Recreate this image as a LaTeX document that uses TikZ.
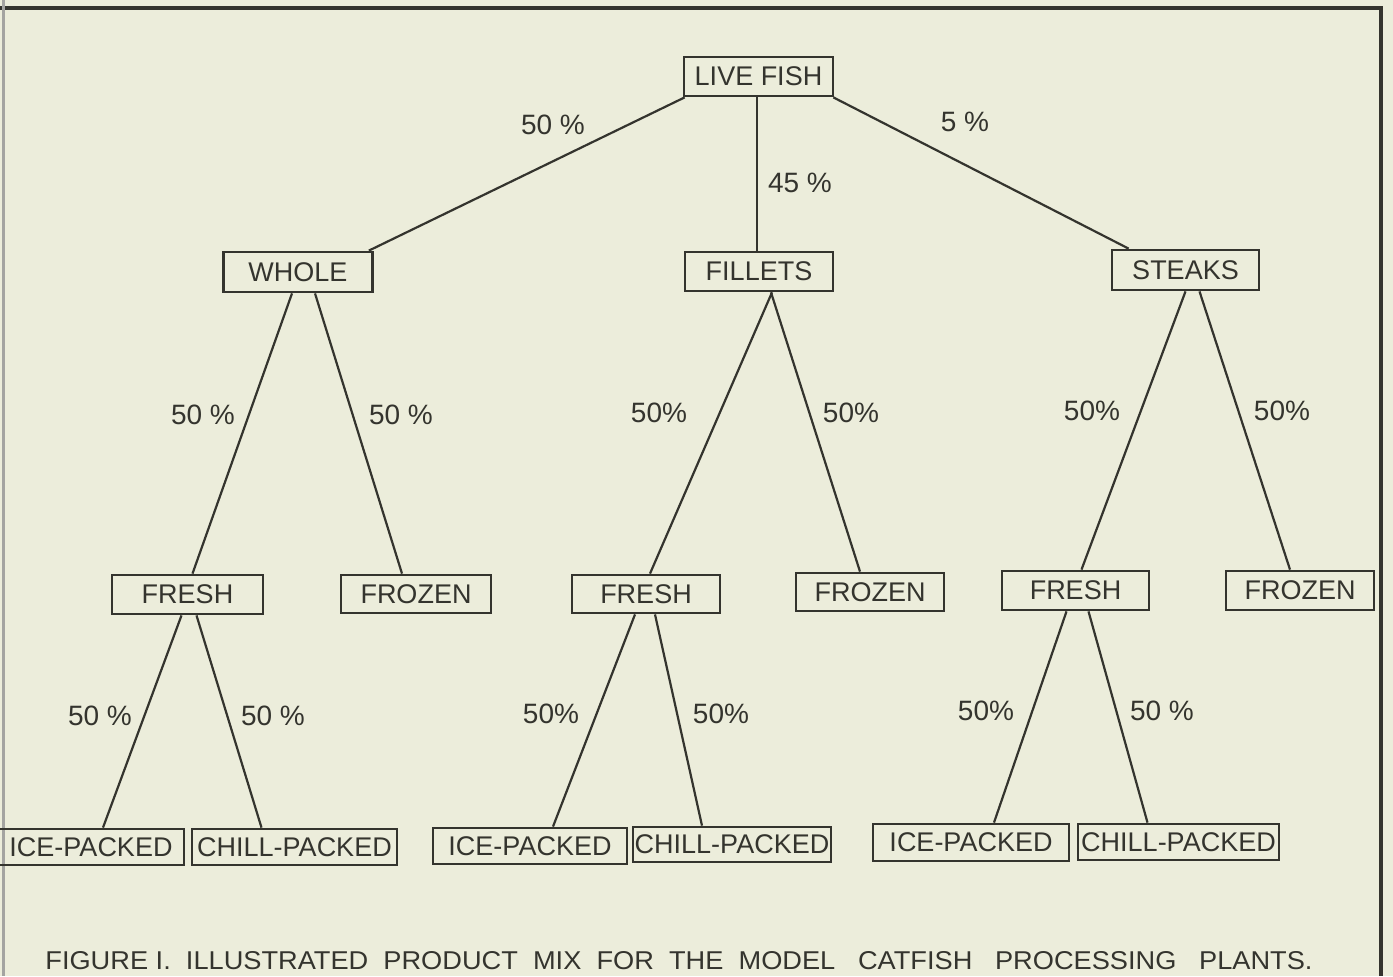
\documentclass[tikz,border=0pt]{standalone}
\usepackage{fontspec}
\setmainfont{Liberation Sans}
\usetikzlibrary{calc}
\definecolor{paper}{RGB}{236,237,219}
\definecolor{ink}{RGB}{52,52,46}
\begin{document}
\begin{tikzpicture}[x=0.5pt,y=-0.5pt,
  box/.style={draw=ink,line width=1.4pt,inner sep=0pt,text=ink,
    font=\fontsize{13.5}{16}\selectfont},
  pct/.style={text=ink,inner sep=0pt,font=\fontsize{14}{16}\selectfont},
  link/.style={draw=ink,line width=1.1pt}]
\fill[paper] (0,0) rectangle (1393,976);
\useasboundingbox (0,0) rectangle (1393,976);
% frame
\draw[ink,line width=2pt] (0,8) -- (1381,8) -- (1381,976);
\draw[ink!45,line width=1.5pt] (3,0) -- (3,976);
% boxes
\node[box,minimum width=74.5pt,minimum height=19.5pt] (live) at (758.5,76.5) {LIVE FISH};
\node[box,minimum width=74.5pt,minimum height=20pt] (whole) at (298,272) {WHOLE};
\node[box,minimum width=74pt,minimum height=19.5pt] (fillets) at (759,271.5) {FILLETS};
\node[box,minimum width=73.5pt,minimum height=20pt] (steaks) at (1185.5,270) {STEAKS};
\node[box,minimum width=75.5pt,minimum height=19.5pt] (fresha) at (187.5,594.5) {FRESH};
\node[box,minimum width=75pt,minimum height=19pt] (frozena) at (416,594) {FROZEN};
\node[box,minimum width=74pt,minimum height=19pt] (freshb) at (646,594) {FRESH};
\node[box,minimum width=74pt,minimum height=19pt] (frozenb) at (870,592) {FROZEN};
\node[box,minimum width=73.5pt,minimum height=19.5pt] (freshc) at (1075.5,590.5) {FRESH};
\node[box,minimum width=74pt,minimum height=19.5pt] (frozenc) at (1300,590.5) {FROZEN};
\node[box,minimum width=93pt,minimum height=18pt] (icea) at (91,847) {ICE-PACKED};
\node[box,minimum width=102.5pt,minimum height=18pt] (chilla) at (294.5,847) {CHILL-PACKED};
\node[box,minimum width=97pt,minimum height=18pt] (iceb) at (530,846) {ICE-PACKED};
\node[box,minimum width=99pt,minimum height=17.5pt] (chillb) at (732,844.5) {CHILL-PACKED};
\node[box,minimum width=98pt,minimum height=18.5pt] (icec) at (971,842.5) {ICE-PACKED};
\node[box,minimum width=100.5pt,minimum height=18pt] (chillc) at (1178.5,842) {CHILL-PACKED};
% connectors
\draw[link] ($(live.south west)+(2,0)$) -- ($(whole.north east)+(-5,0)$);
\draw[link] ($(live.south)+(-1.5,0)$) -- ($(fillets.north)+(-2,0)$);
\draw[link] ($(live.south east)+(-1,0)$) -- ($(steaks.north west)+(18,0)$);
\draw[link] ($(whole.south)+(-6,0)$) -- ($(fresha.north)+(5,0)$);
\draw[link] ($(whole.south)+(17,0)$) -- ($(frozena.north)+(-14,0)$);
\draw[link] ($(fillets.south)+(13,0)$) -- ($(freshb.north)+(4,0)$);
\draw[link] ($(fillets.south)+(12,0)$) -- ($(frozenb.north)+(-10,0)$);
\draw[link] ($(steaks.south)+(0,0)$) -- ($(freshc.north)+(6,0)$);
\draw[link] ($(steaks.south)+(14,0)$) -- ($(frozenc.north)+(-10,0)$);
\draw[link] ($(fresha.south)+(-6,0)$) -- ($(icea.north)+(12,0)$);
\draw[link] ($(fresha.south)+(9,0)$) -- ($(chilla.north)+(-33,0)$);
\draw[link] ($(freshb.south)+(-11,0)$) -- ($(iceb.north)+(23,0)$);
\draw[link] ($(freshb.south)+(9,0)$) -- ($(chillb.north)+(-30,0)$);
\draw[link] ($(freshc.south)+(-9,0)$) -- ($(icec.north)+(23,0)$);
\draw[link] ($(freshc.south)+(13,0)$) -- ($(chillc.north)+(-31,0)$);
% labels
\node[pct] (p1) at (553,125) {50 \%};
\node[pct] (p2) at (800,183) {45 \%};
\node[pct] (p3) at (965,122) {5 \%};
\node[pct] (p4) at (203,415) {50 \%};
\node[pct] (p5) at (401,415) {50 \%};
\node[pct] (p6) at (659,413) {50\%};
\node[pct] (p7) at (851,413) {50\%};
\node[pct] (p8) at (1092,411) {50\%};
\node[pct] (p9) at (1282,411) {50\%};
\node[pct] (p10) at (100,716) {50 \%};
\node[pct] (p11) at (273,716) {50 \%};
\node[pct] (p12) at (551,714) {50\%};
\node[pct] (p13) at (721,714) {50\%};
\node[pct] (p14) at (986,711) {50\%};
\node[pct] (p15) at (1162,711) {50 \%};
% caption
\node[text=ink,inner sep=0pt,anchor=south west] (cap) at (45,970)
  {\resizebox{633.5pt}{9pt}{FIGURE I.\ \ ILLUSTRATED\ \ PRODUCT\ \ MIX\ \ FOR\ \ THE\ \ MODEL\ \ \ CATFISH\ \ \ PROCESSING\ \ \ PLANTS.}};
\end{tikzpicture}
\end{document}
